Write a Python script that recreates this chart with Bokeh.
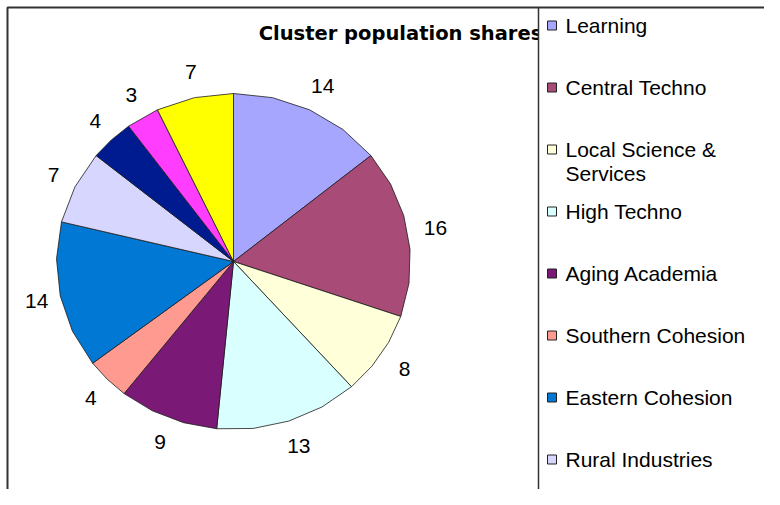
import numpy as np
from bokeh.plotting import figure
from bokeh.models import Range1d, BoxAnnotation
from bokeh.core.properties import value
from bokeh.embed import file_html
from bokeh.resources import INLINE

# ---------------- data ----------------
title_text = "Cluster population shares"
# shares of the 11 slices, clockwise from 12 o'clock
shares = [14, 16, 8, 13, 9, 4, 14, 7, 4, 3, 7]
slice_colors = ["#A6A6FF", "#A84B77", "#FFFFD9", "#D9FFFF", "#7A1A76", "#FF9A90",
                "#0078D4", "#D6D6FF", "#001A8F", "#FF3DFF", "#FFFF00"]
# legend entries visible in the (cropped) legend box
legend_labels = ["Learning", "Central Techno", "Local Science &\nServices", "High Techno",
                 "Aging Academia", "Southern Cohesion", "Eastern Cohesion", "Rural Industries"]

# ---------------- layout ----------------
W, H = 764, 489
CX, CY = 233, 261          # pie centre (px in canvas)
RX, RY = 177, 168          # pie radii (px)
FONT = "Liberation Sans"
EDGE = 7                   # chart-area frame (left/top)
LX = 538                   # legend box left edge

p = figure(width=W, height=H, output_backend="svg", toolbar_location=None,
           x_range=Range1d(-CX / RX, (W - CX) / RX),
           y_range=Range1d(-(H - CY) / RY, CY / RY),
           x_axis_location=None, y_axis_location=None,
           min_border=0, outline_line_color=None,
           background_fill_color="white", border_fill_color="white")
p.grid.grid_line_color = None
p.extra_x_ranges = {"px": Range1d(0, W)}
p.extra_y_ranges = {"px": Range1d(H, 0)}

# ---------------- pie ----------------
vals = np.array(shares, dtype=float)
frac = vals / vals.sum()
ends = np.cumsum(frac) * 2 * np.pi
starts = ends - frac * 2 * np.pi
xs, ys = [], []
step = np.radians(12.9)
for a0, a1 in zip(starts, ends):
    n = max(1, int(np.ceil((a1 - a0) / step)))
    t = np.linspace(a0, a1, n + 1)
    xs.append([0.0] + list(np.sin(t)))
    ys.append([0.0] + list(np.cos(t)))
p.patches(xs, ys, fill_color=slice_colors, line_color="#1a1a1a", line_width=0.8)

mid = (starts + ends) / 2
d = 26
p.text(x=np.sin(mid), y=np.cos(mid), text=[str(v) for v in shares],
       x_offset=d * np.sin(mid) + 2, y_offset=-d * np.cos(mid),
       text_align="center", text_baseline="middle",
       text_font=value(FONT), text_font_size="21px", text_color="black")

# ---------------- title ----------------
p.text(x=[400], y=[33], text=[title_text], x_range_name="px", y_range_name="px",
       text_align="center", text_baseline="middle",
       text_font=value("DejaVu Sans"), text_font_style="bold",
       text_font_size="19.5px", text_color="black")

# ---------------- legend box (covers the end of the title) ----------------
p.add_layout(BoxAnnotation(left=LX, top=EDGE, x_range_name="px", y_range_name="px",
                           fill_color="white", fill_alpha=1.0, line_color=None))

# ---------------- frame lines ----------------
fr = p.multi_line(xs=[[EDGE, EDGE, W], [LX, LX]], ys=[[H, EDGE, EDGE], [EDGE, H]],
                  line_color="#333333", line_width=[2, 1.5],
                  x_range_name="px", y_range_name="px")
fr.level = "overlay"

mid0, gap, lh = 25, 62, 24
sq_x, sq_y, sq_c = [], [], []
tx, ty, tt = [], [], []
for i, lab in enumerate(legend_labels):
    m = mid0 + gap * i
    sq_x.append(551.5)
    sq_y.append(m)
    sq_c.append(slice_colors[i])
    for j, line in enumerate(lab.split("\n")):
        tx.append(565)
        ty.append(m + lh * j)
        tt.append(line)
r1 = p.scatter(x=sq_x, y=sq_y, marker="square", size=9, fill_color=sq_c,
               line_color="#222222", line_width=1, x_range_name="px", y_range_name="px")
r2 = p.text(x=tx, y=ty, text=tt, x_range_name="px", y_range_name="px",
            text_align="left", text_baseline="middle",
            text_font=value(FONT), text_font_size="21px", text_color="black")
r1.level = "overlay"
r2.level = "overlay"

open("out.html", "w").write(file_html(p, INLINE))
